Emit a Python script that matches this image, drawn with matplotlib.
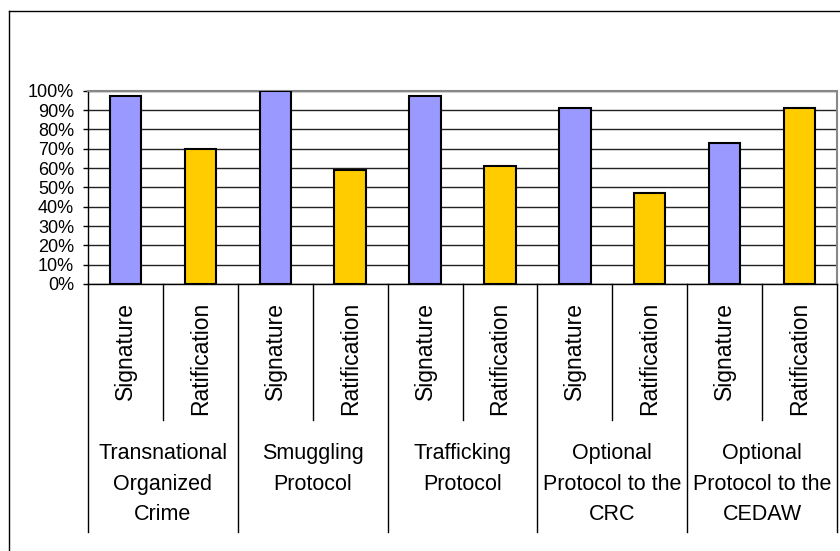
import matplotlib
matplotlib.use("Agg")
import matplotlib.pyplot as plt
from matplotlib.lines import Line2D
import matplotlib.transforms as mtransforms

plt.rcParams['font.family'] = ['Liberation Sans', 'DejaVu Sans']

groups = ["Transnational\nOrganized\nCrime", "Smuggling\nProtocol", "Trafficking\nProtocol",
          "Optional\nProtocol to the\nCRC", "Optional\nProtocol to the\nCEDAW"]
kinds = ["Signature", "Ratification"]
signature = [97, 100, 97, 91, 73]
ratification = [70, 59, 61, 47, 91]
yticks = [0, 10, 20, 30, 40, 50, 60, 70, 80, 90, 100]

W, H = 840, 551
fig = plt.figure(figsize=(W / 100, H / 100), dpi=100)
ax = fig.add_axes([88 / W, 1 - 284 / H, (837 - 88) / W, (284 - 90.7) / H])

values = []
colors = []
for s, r in zip(signature, ratification):
    values += [s, r]
    colors += ["#9999FF", "#FFCC00"]
xs = list(range(len(values)))
ax.bar(xs, values, width=0.42, color=colors, edgecolor="black", linewidth=1.5, zorder=3)

ax.set_xlim(-0.5, len(values) - 0.5)
ax.set_ylim(0, 100)
ax.set_yticks(yticks)
ax.set_yticklabels([f"{v}%" for v in yticks], fontsize=13)
ax.tick_params(axis="y", length=3.6, width=1, pad=6.5, color="black")
ax.set_xticks([])
ax.yaxis.grid(True, color="#222222", linewidth=1, zorder=0)
ax.set_axisbelow(True)
for side in ("top", "right"):
    ax.spines[side].set_color("#888888")
    ax.spines[side].set_linewidth(1.5)
for side in ("left", "bottom"):
    ax.spines[side].set_color("black")
    ax.spines[side].set_linewidth(1)

axh = 284 - 90.7
def yf(py):
    return (284 - py) / axh

trans = mtransforms.blended_transform_factory(ax.transData, ax.transAxes)
# sub separators (between signature and ratification)
for g in range(len(groups)):
    x = 2 * g + 0.5
    ax.add_line(Line2D([x, x], [0, yf(420)], transform=trans, color="black", lw=1, clip_on=False))
# group separators
for g in range(len(groups) + 1):
    x = 2 * g - 0.5
    ax.add_line(Line2D([x, x], [0, yf(532)], transform=trans, color="black", lw=1, clip_on=False))

for i in xs:
    ax.text(i, yf(302), kinds[i % 2], rotation=90, ha="center", va="top",
            fontsize=16.5, transform=trans, clip_on=False)

for g, name in enumerate(groups):
    ax.text(2 * g + 0.5, yf(443), name, ha="center", va="top", fontsize=15.5,
            linespacing=1.6, transform=trans, clip_on=False)

# outer chart border (left and top)
fig.add_artist(Line2D([9 / W, 9 / W], [0, 1 - 11 / H], transform=fig.transFigure, color="black", lw=1))
fig.add_artist(Line2D([9 / W, 1], [1 - 11 / H, 1 - 11 / H], transform=fig.transFigure, color="black", lw=1))

fig.savefig("out.png", dpi=100)
